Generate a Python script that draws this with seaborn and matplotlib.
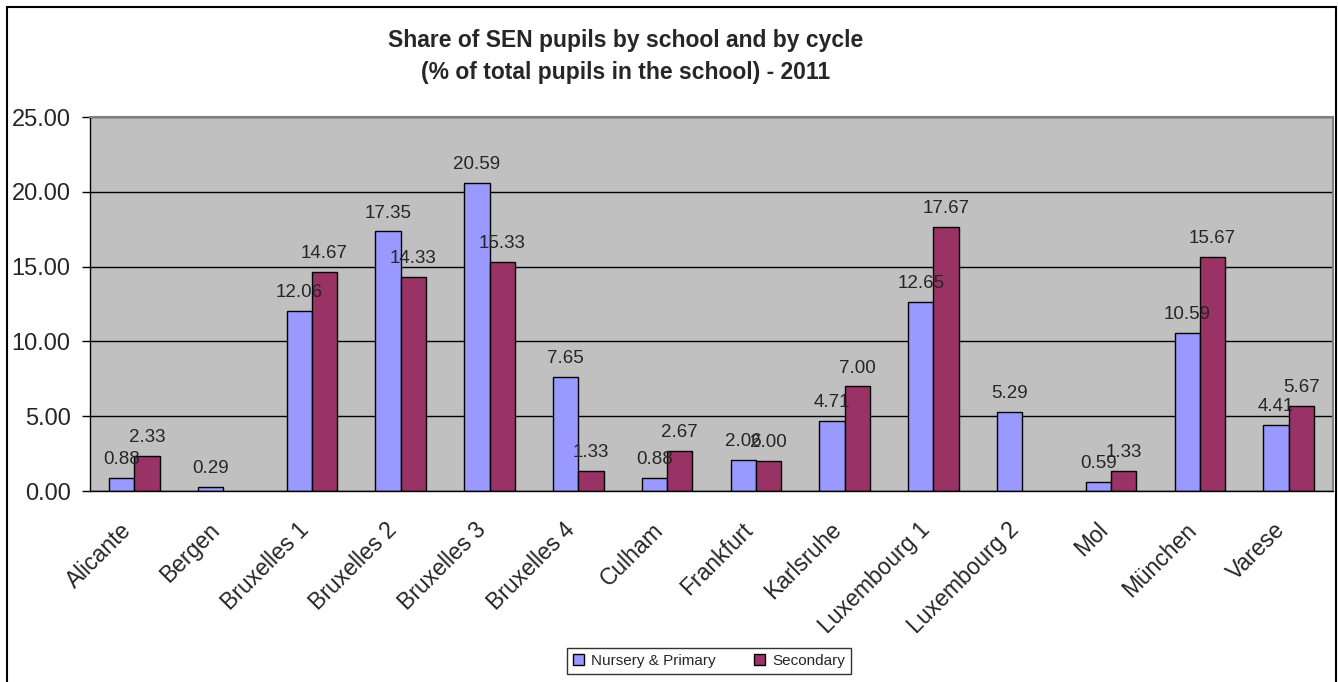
import numpy as np
import pandas as pd
import matplotlib
matplotlib.use("Agg")
import matplotlib.pyplot as plt
import matplotlib.transforms as mtransforms
import seaborn as sns
from matplotlib.patches import Rectangle

schools = ['Alicante', 'Bergen', 'Bruxelles 1', 'Bruxelles 2', 'Bruxelles 3', 'Bruxelles 4',
           'Culham', 'Frankfurt', 'Karlsruhe', 'Luxembourg 1', 'Luxembourg 2', 'Mol',
           'München', 'Varese']
nursery_primary = [0.88, 0.29, 12.06, 17.35, 20.59, 7.65, 0.88, 2.06, 4.71, 12.65, 5.29, 0.59, 10.59, 4.41]
secondary = [2.33, np.nan, 14.67, 14.33, 15.33, 1.33, 2.67, 2.00, 7.00, 17.67, np.nan, 1.33, 15.67, 5.67]
series = ['Nursery & Primary', 'Secondary']
colors = ['#9999FF', '#993366']

df = pd.DataFrame({'School': schools, series[0]: nursery_primary, series[1]: secondary})
df = df.melt(id_vars='School', var_name='Cycle', value_name='Share')
df['School'] = pd.Categorical(df['School'], categories=schools, ordered=True)

sns.set_style('white')
plt.rcParams['font.family'] = ['Liberation Sans', 'DejaVu Sans']

fig = plt.figure(figsize=(13.38, 6.82), dpi=100)
ax = fig.add_axes([90 / 1338, 1 - 491 / 682, (1333 - 90) / 1338, (491 - 117) / 682])

sns.barplot(data=df, x='School', y='Share', hue='Cycle', hue_order=series, order=schools,
            palette=colors, width=0.57, edgecolor='black', linewidth=1, saturation=1,
            errorbar=None, ax=ax, legend=True)

ax.set_facecolor('#C0C0C0')
ax.set_ylim(0, 25)
ax.set_xlim(-0.5, len(schools) - 0.5)
ax.set_yticks(np.arange(0, 26, 5))
ax.set_yticklabels([f'{v:.2f}' for v in np.arange(0, 26, 5)], fontsize=17)
ax.yaxis.grid(True, color='black', linewidth=1)
ax.set_axisbelow(True)
ax.set_xlabel('')
ax.set_ylabel('')

# category labels, tick marks between categories
ax.set_xticks(range(len(schools)))
ax.set_xticklabels(schools, rotation=45, ha='right', rotation_mode='anchor', fontsize=16.5)
ax.tick_params(axis='x', which='major', length=0, pad=14)
shift = mtransforms.ScaledTranslation(-15 / 100, -8 / 100, fig.dpi_scale_trans)
for lab in ax.get_xticklabels():
    lab.set_transform(lab.get_transform() + shift)
ax.set_xticks(np.arange(-0.5, len(schools), 1), minor=True)
ax.tick_params(axis='x', which='minor', length=6, width=1, color='black', direction='out')
ax.tick_params(axis='y', which='major', length=6, width=1, color='black', direction='out', left=True, pad=8)

for side in ['left', 'bottom']:
    ax.spines[side].set_color('black')
    ax.spines[side].set_linewidth(1)
for side in ['top', 'right']:
    ax.spines[side].set_color('#808080')
    ax.spines[side].set_linewidth(1.5)

for cont in ax.containers:
    labels = ['' if np.isnan(b.get_height()) else f'{b.get_height():.2f}' for b in cont]
    ax.bar_label(cont, labels=labels, padding=7, fontsize=13.5)

handles, lbls = ax.get_legend_handles_labels()
ax.legend_.remove()
fig.legend(handles, lbls, loc='center', bbox_to_anchor=(709 / 1338, 1 - 661 / 682), ncol=2,
           fontsize=11, frameon=True, fancybox=False, edgecolor='black', handlelength=0.7,
           handleheight=0.7, columnspacing=2.5, handletextpad=0.5, borderpad=0.4)
fig.legends[0].get_frame().set_linewidth(1)

fig.text(626 / 1338, 1 - 57 / 682, 'Share of SEN pupils by school and by cycle\n(% of total pupils in the school) - 2011',
         ha='center', va='center', fontsize=16.5, fontweight='bold', linespacing=1.5)

fig.patches.append(Rectangle((7 / 1338, -0.05), (1336 - 7) / 1338, 1.05 - 7 / 682,
                             transform=fig.transFigure, fill=False, edgecolor='black', linewidth=1.5))

fig.savefig('out.png', dpi=100)
